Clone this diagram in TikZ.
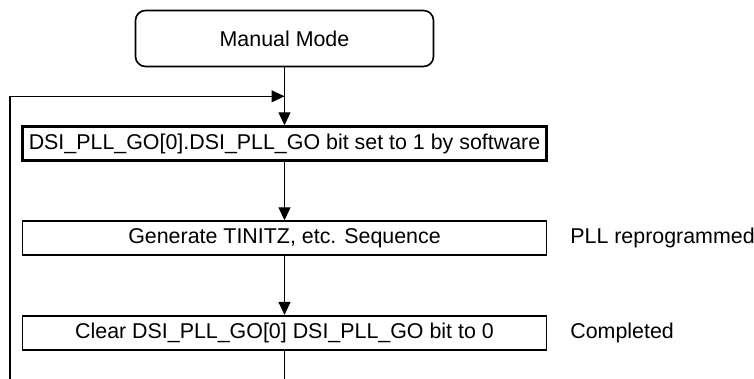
\documentclass[tikz,border=0pt]{standalone}
\usepackage{fontspec}
\setmainfont{Liberation Sans}
\usetikzlibrary{arrows.meta,positioning,calc}

\begin{document}
\begin{tikzpicture}[
  font=\fontsize{10.7}{12.8}\selectfont,
  box/.style={draw, line width=0.8pt, minimum width=262pt, minimum height=17pt, inner sep=1pt},
  arr/.style={-{Triangle[length=6.5pt,width=6pt]}, line width=0.6pt}
]
\useasboundingbox (0,0) rectangle (377pt,-189.5pt);
\node[draw, rounded corners=5pt, line width=0.8pt, minimum width=149pt, minimum height=28pt] (mm) at (142.25pt,-19.25pt) {Manual Mode};
\node[draw, line width=1.5pt, minimum width=262pt, minimum height=17pt, inner sep=1pt, below=29pt of mm] (dsi) {DSI\_PLL\_GO[0].DSI\_PLL\_GO bit set to 1 by software};
\node[box, below=29pt of dsi] (gen) {Generate TINITZ, etc. Sequence};
\node[box, below=29.5pt of gen] (clr) {Clear DSI\_PLL\_GO[0] DSI\_PLL\_GO bit to 0};
\node[right=8pt of gen] (pll) {PLL reprogrammed};
\node[right=8pt of clr] (done) {Completed};

\coordinate (join) at ($(mm.south)!0.5!(dsi.north)$);
\coordinate (exit) at (clr.south |- 0,-189.5pt);
\coordinate (loop) at (5pt,-189.5pt);

\draw[arr] (mm) -- (dsi);
\draw[arr] (dsi) -- (gen);
\draw[arr] (gen) -- (clr);
\draw[line width=0.6pt] (clr) -- (exit);
\draw[arr] (loop) |- (join);
\end{tikzpicture}
\end{document}
